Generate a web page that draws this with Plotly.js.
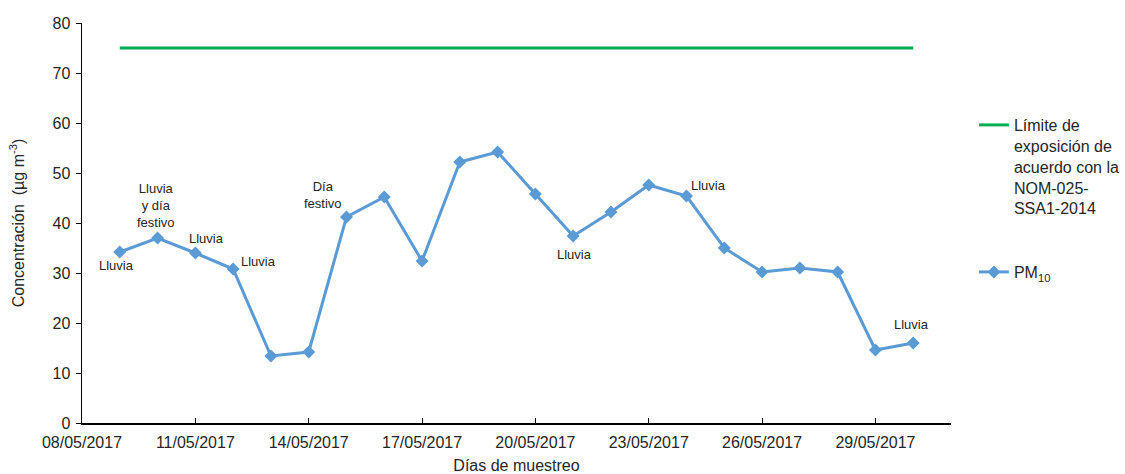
<!DOCTYPE html>
<html>
<head>
<meta charset="utf-8">
<script src="https://cdn.plot.ly/plotly-3.0.1.min.js"></script>
<style>
html, body { margin: 0; padding: 0; background: #fff; }
#chart { width: 1125px; height: 474px; }
</style>
</head>
<body>
<div id="chart"></div>
<script>
const dates = ['2017-05-09','2017-05-10','2017-05-11','2017-05-12','2017-05-13','2017-05-14','2017-05-15','2017-05-16','2017-05-17','2017-05-18','2017-05-19','2017-05-20','2017-05-21','2017-05-22','2017-05-23','2017-05-24','2017-05-25','2017-05-26','2017-05-27','2017-05-28','2017-05-29','2017-05-30'];
const pm10 = [34.2, 37.0, 34.0, 30.8, 13.4, 14.2, 41.2, 45.2, 32.4, 52.2, 54.2, 45.8, 37.4, 42.2, 47.6, 45.4, 35.0, 30.2, 31.0, 30.2, 14.6, 16.0];
const limitDates = ['2017-05-09', '2017-05-30'];
const limitValues = [75, 75];
const limitName = 'Límite de<br>exposición de<br>acuerdo con la<br>NOM-025-<br>SSA1-2014';
const pmName = 'PM<sub>10</sub>';
const noteTexts = ['Lluvia', 'Lluvia<br>y día<br>festivo', 'Lluvia', 'Lluvia', 'Día<br>festivo', 'Lluvia', 'Lluvia', 'Lluvia'];
const noteX = ['2017-05-08 22:00', '2017-05-09 23:00', '2017-05-11 07:00', '2017-05-12 16:00', '2017-05-14 09:00', '2017-05-21 01:00', '2017-05-24 14:00', '2017-05-29 23:00'];
const noteY = [31.6, 43.6, 37.0, 32.4, 45.6, 33.8, 47.6, 19.8];

const FONT = 'Liberation Sans, Arial, sans-serif';

const traces = [
  {
    x: limitDates, y: limitValues, name: limitName, type: 'scatter', mode: 'lines',
    line: {color: '#00b050', width: 3}, legendgroup: 'a', hoverinfo: 'skip'
  },
  {
    x: dates, y: pm10, name: pmName, type: 'scatter', mode: 'lines+markers',
    line: {color: '#5b9bd5', width: 3},
    marker: {symbol: 'diamond', size: 10, color: '#5b9bd5'},
    legendgroup: 'b'
  }
];

const annotations = noteTexts.map((t, i) => ({
  x: noteX[i], y: noteY[i], xref: 'x', yref: 'y', text: t, showarrow: false,
  font: {family: FONT, size: 13, color: '#262626'}, align: 'center'
}));

const layout = {
  width: 1125, height: 474,
  margin: {l: 82, r: 174, t: 23, b: 51, autoexpand: false},
  paper_bgcolor: '#fff', plot_bgcolor: '#fff',
  font: {family: FONT, size: 16, color: '#262626'},
  showlegend: true,
  legend: {
    x: 1.0264, xanchor: 'left', y: 0.7875, yanchor: 'top',
    valign: 'top', tracegroupgap: 40,
    font: {family: FONT, size: 16, color: '#262626'}
  },
  xaxis: {
    type: 'date',
    range: ['2017-05-08', '2017-05-31'],
    tick0: '2017-05-08', dtick: 3 * 86400000,
    tickformat: '%d/%m/%Y',
    showgrid: false, zeroline: false,
    showline: true, linecolor: '#000', linewidth: 1.5,
    ticks: 'inside', ticklen: 5, tickcolor: '#000', tickwidth: 1,
    ticklabelstandoff: 4,
    tickfont: {family: FONT, size: 16, color: '#262626'},
    title: {text: 'Días de muestreo', font: {family: FONT, size: 16, color: '#262626'}, standoff: 10}
  },
  yaxis: {
    range: [0, 80], dtick: 10,
    showgrid: false, zeroline: false,
    showline: true, linecolor: '#000', linewidth: 1.5,
    ticks: 'outside', ticklen: 5, tickcolor: '#000', tickwidth: 1,
    ticklabelstandoff: 2,
    tickfont: {family: FONT, size: 16, color: '#262626'},
    title: {text: 'Concentración  (µg m<sup>-3</sup>)', font: {family: FONT, size: 16, color: '#262626'}, standoff: 24}
  },
  annotations: annotations
};

Plotly.newPlot('chart', traces, layout, {displayModeBar: false, staticPlot: true});
</script>
</body>
</html>
